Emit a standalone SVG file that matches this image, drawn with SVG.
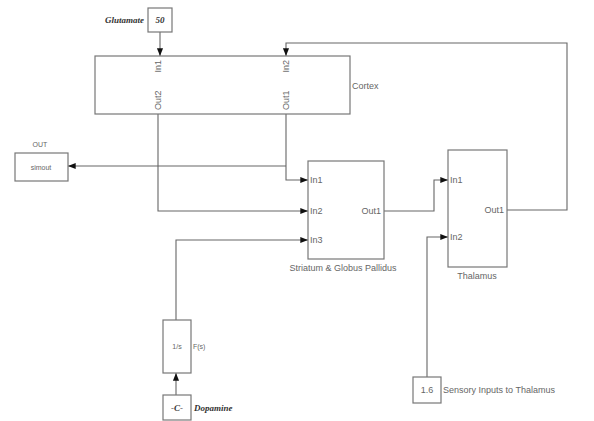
<svg xmlns="http://www.w3.org/2000/svg" width="594" height="421" viewBox="0 0 594 421">
<defs>
<style>
.blk{fill:#fff;stroke:#777;stroke-width:1.2}
.ln{fill:none;stroke:#666;stroke-width:1.1}
.t{font-family:"Liberation Sans",Arial,sans-serif;font-size:9px;fill:#666}
.s{font-family:"Liberation Sans",Arial,sans-serif;font-size:7px;fill:#666}
.b{font-family:"Liberation Serif",serif;font-size:9px;font-weight:bold;font-style:italic;fill:#333}
</style>
<marker id="ar" viewBox="0 0 10 10" refX="10" refY="5" markerWidth="7" markerHeight="7" orient="auto">
<path d="M0,1 L10,5 L0,9 Z" fill="#111"/>
</marker>
</defs>
<rect width="594" height="421" fill="#fff"/>
<g id="connectors">
<path class="ln" d="M160,32 V56" marker-end="url(#ar)"/>
<path class="ln" d="M507,210 H567 V43 H286 V56" marker-end="url(#ar)"/>
<path class="ln" d="M286,114 V180 H308" marker-end="url(#ar)"/>
<path class="ln" d="M286,166 H68" marker-end="url(#ar)"/>
<path class="ln" d="M158,114 V211 H308" marker-end="url(#ar)"/>
<path class="ln" d="M176,320 V240 H308" marker-end="url(#ar)"/>
<path class="ln" d="M176,395 V373" marker-end="url(#ar)"/>
<path class="ln" d="M384,211 H434 V180 H448" marker-end="url(#ar)"/>
<path class="ln" d="M427,377 V237 H448" marker-end="url(#ar)"/>
</g>
<g id="glutamate">
<rect class="blk" x="148" y="8" width="24" height="24"/>
<text class="b" x="160" y="23" text-anchor="middle">50</text>
<text class="b" x="144" y="23" text-anchor="end">Glutamate</text>
</g>
<g id="cortex">
<rect class="blk" x="95" y="56" width="255" height="58"/>
<text class="t" transform="translate(161,60) rotate(-90)" text-anchor="end">In1</text>
<text class="t" transform="translate(289,60) rotate(-90)" text-anchor="end">In2</text>
<text class="t" transform="translate(161,110) rotate(-90)">Out2</text>
<text class="t" transform="translate(289,110) rotate(-90)">Out1</text>
<text class="t" x="352" y="89">Cortex</text>
</g>
<g id="out">
<rect class="blk" x="15" y="153" width="53" height="28"/>
<text class="s" x="41" y="170" text-anchor="middle">simout</text>
<text class="s" x="40" y="147" text-anchor="middle">OUT</text>
</g>
<g id="striatum">
<rect class="blk" x="308" y="161" width="76" height="98"/>
<text class="t" x="310" y="183">In1</text>
<text class="t" x="310" y="214">In2</text>
<text class="t" x="310" y="243">In3</text>
<text class="t" x="381" y="214" text-anchor="end">Out1</text>
<text class="t" x="343" y="271" text-anchor="middle">Striatum &amp; Globus Pallidus</text>
</g>
<g id="thalamus">
<rect class="blk" x="448" y="150" width="59" height="117"/>
<text class="t" x="450" y="183">In1</text>
<text class="t" x="450" y="240">In2</text>
<text class="t" x="504" y="213" text-anchor="end">Out1</text>
<text class="t" x="477" y="279" text-anchor="middle">Thalamus</text>
</g>
<g id="transfer">
<rect class="blk" x="163" y="320" width="28" height="53"/>
<text class="s" x="177" y="349" text-anchor="middle">1/s</text>
<text class="s" x="193" y="349">F(s)</text>
</g>
<g id="dopamine">
<rect class="blk" x="163" y="395" width="28" height="25"/>
<text class="b" x="177" y="411" text-anchor="middle">-C-</text>
<text class="b" x="194" y="411">Dopamine</text>
</g>
<g id="sensory">
<rect class="blk" x="413" y="377" width="28" height="26"/>
<text class="t" x="427" y="393" text-anchor="middle">1.6</text>
<text class="t" x="443" y="393">Sensory Inputs to Thalamus</text>
</g>
</svg>
